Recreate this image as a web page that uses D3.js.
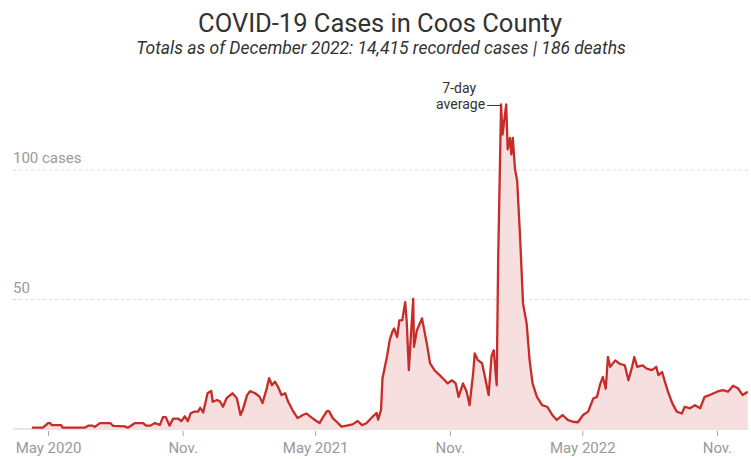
<!DOCTYPE html>
<html>
<head>
<meta charset="utf-8">
<script src="https://cdn.jsdelivr.net/npm/d3@7"></script>
<style>
  html, body { margin: 0; padding: 0; background: #fff; }
  svg { display: block; font-family: Roboto, "Noto Sans", sans-serif; }
</style>
</head>
<body>
<svg id="chart" width="751" height="459"></svg>
<script>
// Daily 7-day average of new cases, Coos County
const dates = [
  "2020-04-09","2020-04-24","2020-04-28","2020-05-01","2020-05-04","2020-05-06","2020-05-19","2020-05-21",
  "2020-06-20","2020-06-25","2020-07-01","2020-07-04","2020-07-11","2020-07-25","2020-07-29","2020-08-14",
  "2020-08-18","2020-08-28","2020-09-08","2020-09-12","2020-09-18","2020-09-24","2020-10-01","2020-10-05",
  "2020-10-09","2020-10-14","2020-10-19","2020-10-26","2020-10-30","2020-11-04","2020-11-08","2020-11-12",
  "2020-11-17","2020-11-22","2020-11-25","2020-11-29","2020-12-05","2020-12-10","2020-12-12","2020-12-18",
  "2020-12-22","2020-12-26","2020-12-31","2021-01-08","2021-01-14","2021-01-19","2021-01-22","2021-01-28",
  "2021-02-01","2021-02-08","2021-02-14","2021-02-18","2021-02-24","2021-02-27","2021-03-03","2021-03-07",
  "2021-03-11","2021-03-16","2021-03-21","2021-03-25","2021-03-31","2021-04-07","2021-04-14","2021-04-19",
  "2021-04-24","2021-04-30","2021-05-07","2021-05-11","2021-05-17","2021-05-20","2021-05-25","2021-05-31",
  "2021-06-06","2021-06-13","2021-06-21","2021-06-28","2021-07-04","2021-07-10","2021-07-19","2021-07-24",
  "2021-07-26","2021-07-30","2021-08-01","2021-08-07","2021-08-11","2021-08-15","2021-08-17","2021-08-21",
  "2021-08-24","2021-08-28","2021-09-01","2021-09-03","2021-09-06","2021-09-09","2021-09-12","2021-09-13",
  "2021-09-17","2021-09-24","2021-10-01","2021-10-05","2021-10-11","2021-10-18","2021-10-25","2021-10-29",
  "2021-11-04","2021-11-09","2021-11-13","2021-11-19","2021-11-24","2021-11-28","2021-12-03","2021-12-05",
  "2021-12-09","2021-12-15","2021-12-19","2021-12-24","2021-12-28","2021-12-31","2022-01-04","2022-01-06",
  "2022-01-10","2022-01-12","2022-01-17","2022-01-19","2022-01-22","2022-01-24","2022-01-26","2022-01-29",
  "2022-02-01","2022-02-05","2022-02-09","2022-02-14","2022-02-18","2022-02-22","2022-02-28","2022-03-07",
  "2022-03-14","2022-03-21","2022-03-27","2022-04-04","2022-04-11","2022-04-18","2022-04-25","2022-05-02",
  "2022-05-09","2022-05-16","2022-05-21","2022-05-25","2022-05-29","2022-06-02","2022-06-05","2022-06-08",
  "2022-06-15","2022-06-21","2022-06-28","2022-07-03","2022-07-08","2022-07-11","2022-07-15","2022-07-22",
  "2022-07-28","2022-08-04","2022-08-10","2022-08-13","2022-08-18","2022-08-22","2022-08-26","2022-09-01",
  "2022-09-07","2022-09-14","2022-09-18","2022-09-25","2022-10-02","2022-10-09","2022-10-15","2022-10-22",
  "2022-11-01","2022-11-09","2022-11-16","2022-11-23","2022-11-30","2022-12-06","2022-12-13"
];
const cases = [
  0.5, 0.5, 1.5, 2.3, 2.3, 1.5, 1.5, 0.5,
  0.5, 1.3, 1.3, 0.8, 2.3, 2.3, 1.2, 1.0,
  0.5, 2.3, 2.3, 1.3, 1.3, 2.3, 1.6, 4.6,
  4.6, 1.3, 4.0, 4.0, 3.0, 4.9, 3.0, 6.1,
  6.7, 6.7, 8.2, 6.4, 13.8, 14.7, 10.5, 11.2,
  10.6, 8.6, 11.9, 13.8, 11.9, 5.4, 7.3, 13.1,
  14.6, 13.8, 12.5, 10.0, 15.8, 19.6, 16.9, 18.3,
  16.4, 13.1, 13.8, 10.6, 7.3, 4.2, 5.4, 6.0,
  4.9, 3.6, 2.3, 4.2, 6.9, 6.9, 4.2, 2.6,
  0.9, 1.3, 1.8, 3.1, 1.5, 2.2, 4.9, 6.2,
  3.6, 7.4, 19.6, 27.8, 34.5, 38.0, 38.8, 35.5,
  41.9, 42.0, 49.0, 42.0, 22.7, 36.9, 50.3, 31.7,
  38.1, 42.7, 32.3, 25.3, 22.7, 20.8, 18.8, 17.6,
  18.8, 17.6, 12.4, 17.6, 14.4, 9.2, 22.0, 29.2,
  26.7, 25.4, 20.1, 13.1, 28.2, 30.4, 16.9, 65.0,
  125.3, 113.7, 125.3, 108.0, 112.4, 106.0, 112.4, 100.4,
  95.8, 74.0, 48.4, 40.6, 26.5, 17.6, 12.4, 9.2,
  8.6, 5.4, 3.5, 5.4, 3.5, 2.8, 2.6, 5.4,
  6.7, 11.8, 12.4, 16.9, 20.1, 15.6, 27.8, 24.0,
  26.5, 25.2, 24.6, 18.8, 24.0, 27.8, 24.0, 24.6,
  23.3, 22.7, 24.0, 20.8, 22.0, 18.1, 14.4, 9.9,
  6.7, 6.0, 8.6, 8.0, 9.2, 8.0, 12.4, 13.1,
  14.4, 15.0, 14.4, 16.7, 15.6, 13.1, 14.4
];
const yTicks = [50, 100];
const xTickDates = ["2020-05-01","2020-11-01","2021-05-01","2021-11-01","2022-05-01","2022-11-01"];
const xTickLabels = ["May 2020","Nov.","May 2021","Nov.","May 2022","Nov."];

const parse = d3.timeParse("%Y-%m-%d");
const data = dates.map((d, i) => ({ date: parse(d), value: cases[i] }));

const svg = d3.select("#chart");
const left = 13, right = 748;

const x = d3.scaleTime()
  .domain([parse("2020-05-01"), parse("2022-11-01")])
  .range([48, 717]);
const y = d3.scaleLinear().domain([0, 100]).range([429, 170]);

// Title block
svg.append("text")
  .attr("x", 380).attr("y", 32)
  .attr("text-anchor", "middle")
  .attr("font-size", 25.5).attr("fill", "#333")
  .text("COVID-19 Cases in Coos County");
svg.append("text")
  .attr("x", 381).attr("y", 54)
  .attr("text-anchor", "middle")
  .attr("font-size", 17.5).attr("font-style", "italic").attr("fill", "#333")
  .text("Totals as of December 2022: 14,415 recorded cases | 186 deaths");

// Horizontal gridlines and their labels
svg.append("g").selectAll("line").data(yTicks).join("line")
  .attr("x1", left).attr("x2", right)
  .attr("y1", d => y(d)).attr("y2", d => y(d))
  .attr("stroke", "#ddd").attr("stroke-width", 1)
  .attr("stroke-dasharray", "3,3");
svg.append("g").selectAll("text").data(yTicks).join("text")
  .attr("x", left).attr("y", d => y(d) - 7)
  .attr("font-size", 15).attr("fill", "#999")
  .text(d => d === 100 ? "100 cases" : d);

// Zero baseline
svg.append("line")
  .attr("x1", left).attr("x2", right)
  .attr("y1", y(0)).attr("y2", y(0))
  .attr("stroke", "#ccc").attr("stroke-width", 1);

// Area under the average
const area = d3.area()
  .x(d => x(d.date)).y0(y(0)).y1(d => y(d.value));
svg.append("path").datum(data)
  .attr("d", area)
  .attr("fill", "#f7dfdf");

// 7-day average line
const line = d3.line().x(d => x(d.date)).y(d => y(d.value));
svg.append("path").datum(data)
  .attr("d", line)
  .attr("fill", "none")
  .attr("stroke", "#c62c28")
  .attr("stroke-width", 2.3)
  .attr("stroke-linejoin", "round");

// Bottom axis
const xAxis = d3.axisBottom(x)
  .tickValues(xTickDates.map(parse))
  .tickFormat((d, i) => xTickLabels[i])
  .tickSize(5).tickPadding(6);
const gx = svg.append("g")
  .attr("transform", `translate(0,${y(0) + 2})`)
  .call(xAxis);
gx.select(".domain").remove();
gx.selectAll(".tick line").attr("stroke", "#aaa");
gx.selectAll(".tick text")
  .attr("font-family", "Roboto, sans-serif")
  .attr("font-size", 15).attr("fill", "#999");

// Annotation for the peak
const peak = data.reduce((a, b) => (b.value > a.value ? b : a));
svg.append("line")
  .attr("x1", x(peak.date) - 14).attr("x2", x(peak.date) - 1)
  .attr("y1", y(peak.value) + 1).attr("y2", y(peak.value) + 1)
  .attr("stroke", "#333").attr("stroke-width", 1);
const ann = svg.append("text")
  .attr("text-anchor", "end")
  .attr("font-size", 14).attr("fill", "#333");
ann.append("tspan").attr("x", x(peak.date) - 25).attr("y", y(peak.value) - 11).text("7-day");
ann.append("tspan").attr("x", x(peak.date) - 16).attr("y", y(peak.value) + 5).text("average");
</script>
</body>
</html>
